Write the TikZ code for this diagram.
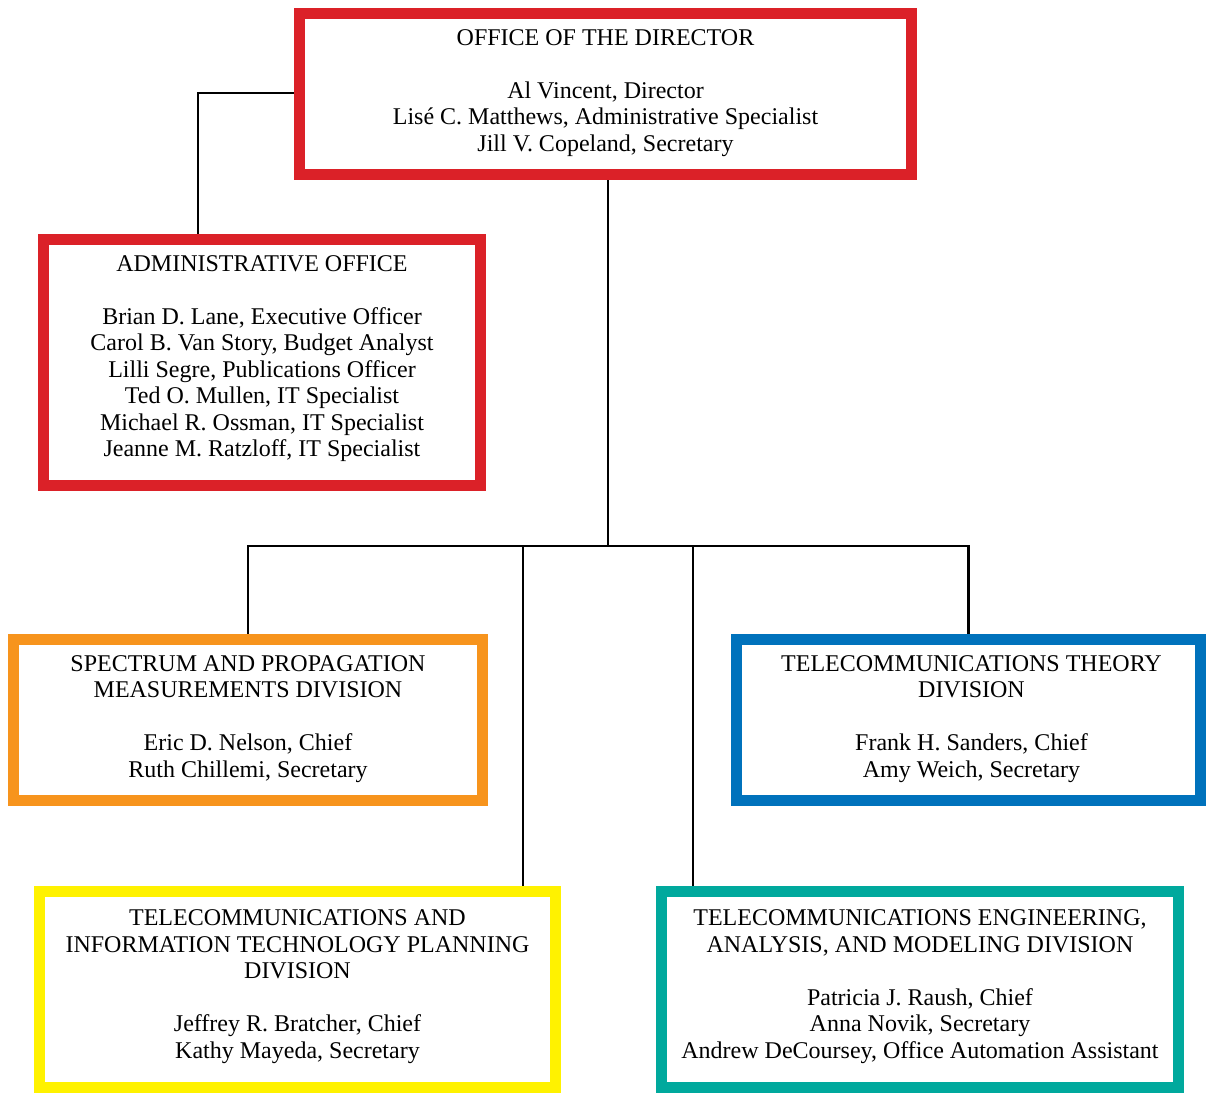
\documentclass[tikz,border=0pt]{standalone}
\usepackage{fontspec}
\setmainfont{Liberation Serif}
\usetikzlibrary{backgrounds,calc}
\definecolor{cred}{HTML}{DB2128}
\definecolor{corange}{HTML}{F7941D}
\definecolor{cyellow}{HTML}{FFF200}
\definecolor{cblue}{HTML}{0072BC}
\definecolor{cteal}{HTML}{00A99D}
\newcommand{\liftup}[2]{\raisebox{#1}[\height][\depth]{#2}}
\begin{document}
\begin{tikzpicture}[x=0.5pt,y=-0.5pt,
  box/.style={draw=#1,line width=5.5pt,align=center,inner sep=0pt,
    font=\fontsize{12}{13.25}\selectfont},
  conn/.style={line width=1.3pt,black}]
\useasboundingbox (0,0) rectangle (1206,1093);
\node[box=cred,minimum width=306pt,minimum height=80.5pt] (dir) at (605.5,94)
  {\liftup{0.5pt}{\begin{tabular}{@{}c@{}}OFFICE OF THE DIRECTOR\\[13.25pt]Al Vincent, Director\\Lisé C. Matthews, Administrative Specialist\\Jill V. Copeland, Secretary\end{tabular}}};
\node[box=cred,minimum width=218.5pt,minimum height=123pt] (adm) at (262,362.5)
  {\liftup{2pt}{\begin{tabular}{@{}c@{}}ADMINISTRATIVE OFFICE\\[13.25pt]Brian D. Lane, Executive Officer\\Carol B. Van Story, Budget Analyst\\Lilli Segre, Publications Officer\\Ted O. Mullen, IT Specialist\\Michael R. Ossman, IT Specialist\\Jeanne M. Ratzloff, IT Specialist\end{tabular}}};
\node[box=corange,minimum width=234.5pt,minimum height=80.5pt] (spe) at (248,720)
  {\liftup{0.5pt}{\begin{tabular}{@{}c@{}}SPECTRUM AND PROPAGATION\\MEASUREMENTS DIVISION\\[13.25pt]Eric D. Nelson, Chief\\Ruth Chillemi, Secretary\end{tabular}}};
\node[box=cblue,minimum width=232pt,minimum height=80.5pt] (the) at (968.5,720)
  {\hspace*{3pt}\liftup{0.5pt}{\begin{tabular}{@{}c@{}}TELECOMMUNICATIONS THEORY\\DIVISION\\[13.25pt]Frank H. Sanders, Chief\\Amy Weich, Secretary\end{tabular}}};
\node[box=cyellow,minimum width=258pt,minimum height=98pt] (tit) at (297.5,989.5)
  {\liftup{1.5pt}{\begin{tabular}{@{}c@{}}TELECOMMUNICATIONS AND\\INFORMATION TECHNOLOGY PLANNING\\DIVISION\\[13.25pt]Jeffrey R. Bratcher, Chief\\Kathy Mayeda, Secretary\end{tabular}}};
\node[box=cteal,minimum width=258.5pt,minimum height=98pt] (eng) at (920,989.5)
  {\liftup{1.5pt}{\begin{tabular}{@{}c@{}}TELECOMMUNICATIONS ENGINEERING,\\ANALYSIS, AND MODELING DIVISION\\[13.25pt]Patricia J. Raush, Chief\\Anna Novik, Secretary\\Andrew DeCoursey, Office Automation Assistant\end{tabular}}};
\coordinate (hub) at (608,546);
\coordinate (d1) at (523,546);
\coordinate (d2) at (693,546);
\coordinate (ac) at (198,93);
\begin{scope}[on background layer]
\draw[conn] (dir.west |- ac) -- (ac) -- (ac |- adm.north);
\draw[conn] (dir.south -| hub) -- (hub);
\draw[conn] (spe.north) -- (spe.north |- hub) -- (the.north |- hub) -- (the.north);
\draw[conn] (d1) -- (d1 |- tit.north);
\draw[conn] (d2) -- (d2 |- eng.north);
\end{scope}
\end{tikzpicture}
\end{document}
